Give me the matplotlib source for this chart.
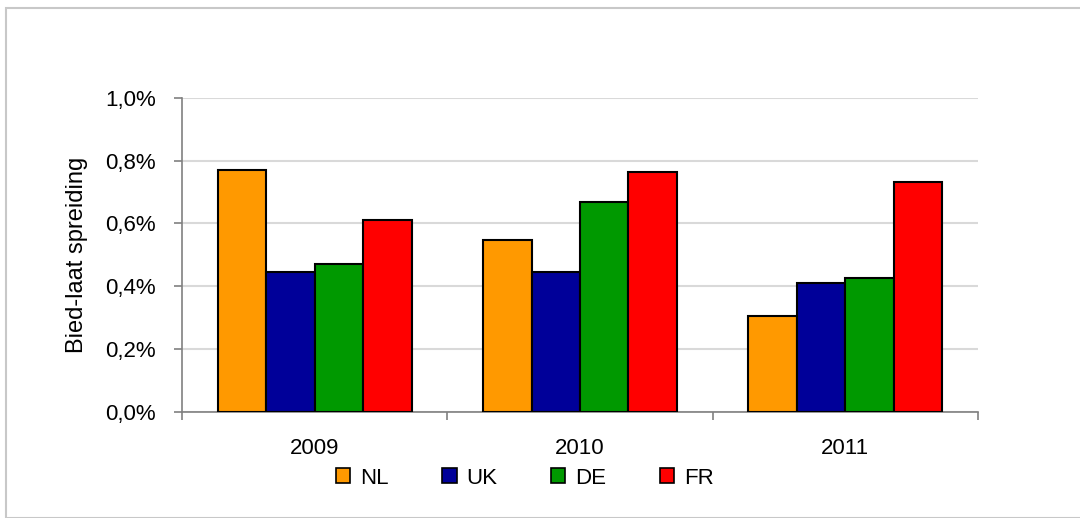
import numpy as np
import matplotlib
matplotlib.use("Agg")
import matplotlib.pyplot as plt
from matplotlib.patches import Rectangle, Patch
from matplotlib.ticker import FuncFormatter

# data (bid-ask spread, in %)
years = ["2009", "2010", "2011"]
countries = ["NL", "UK", "DE", "FR"]
nl = [0.771, 0.547, 0.306]
uk = [0.445, 0.445, 0.409]
de = [0.472, 0.668, 0.427]
fr = [0.612, 0.765, 0.733]
series = [nl, uk, de, fr]
colors = ["#FF9900", "#000099", "#009900", "#FF0000"]

plt.rcParams['font.family'] = ['Liberation Sans', 'DejaVu Sans']

fig = plt.figure(figsize=(10.8, 5.18), dpi=100)
ax = fig.add_axes([0.1688, 0.2052, 0.7365, 0.6056])

# light grey frame around the whole chart
fig.patches.append(Rectangle((6/1080, 0), 1.0, 1 - 8/518, transform=fig.transFigure,
                             fill=False, edgecolor="#c8c8c8", linewidth=1.5, zorder=0))

x = np.arange(len(years))
w = 0.1825
for i, (vals, col) in enumerate(zip(series, colors)):
    ax.bar(x + (i - 1.5) * w, vals, width=w, color=col, edgecolor="black",
           linewidth=1.5, label=countries[i], zorder=3)

ax.set_xlim(-0.5, 2.5)
ax.set_ylim(0, 1.0)
ax.set_yticks(np.arange(0, 1.01, 0.2))
ax.yaxis.set_major_formatter(FuncFormatter(lambda v, p: ("%.1f%%" % v).replace(".", ",")))
ax.grid(axis="y", color="#d9d9d9", linewidth=1.5, zorder=0)

ax.set_xticks(x)
ax.set_xticklabels(years)
ax.set_xticks(np.arange(-0.5, 2.6, 1.0), minor=True)
ax.tick_params(axis="x", which="major", length=0, pad=19, labelsize=16)
ax.tick_params(axis="x", which="minor", length=6, width=1.2, color="#808080", direction="out")
ax.tick_params(axis="y", length=6, width=1.2, color="#808080", direction="out", pad=13, labelsize=16)

for s in ["top", "right"]:
    ax.spines[s].set_visible(False)
for s in ["left", "bottom"]:
    ax.spines[s].set_color("#808080")
    ax.spines[s].set_linewidth(1.2)

ax.set_ylabel("Bied-laat spreiding", fontsize=17, labelpad=12)

handles = [Patch(facecolor=c, edgecolor="black", linewidth=1.2) for c in colors]
fig.legend(handles, countries, loc="center", bbox_to_anchor=(0.486, 0.077), ncol=4,
           frameon=False, fontsize=16, handlelength=0.65, handleheight=0.65,
           handletextpad=0.45, columnspacing=2.4)

fig.savefig("out.png", dpi=100)
